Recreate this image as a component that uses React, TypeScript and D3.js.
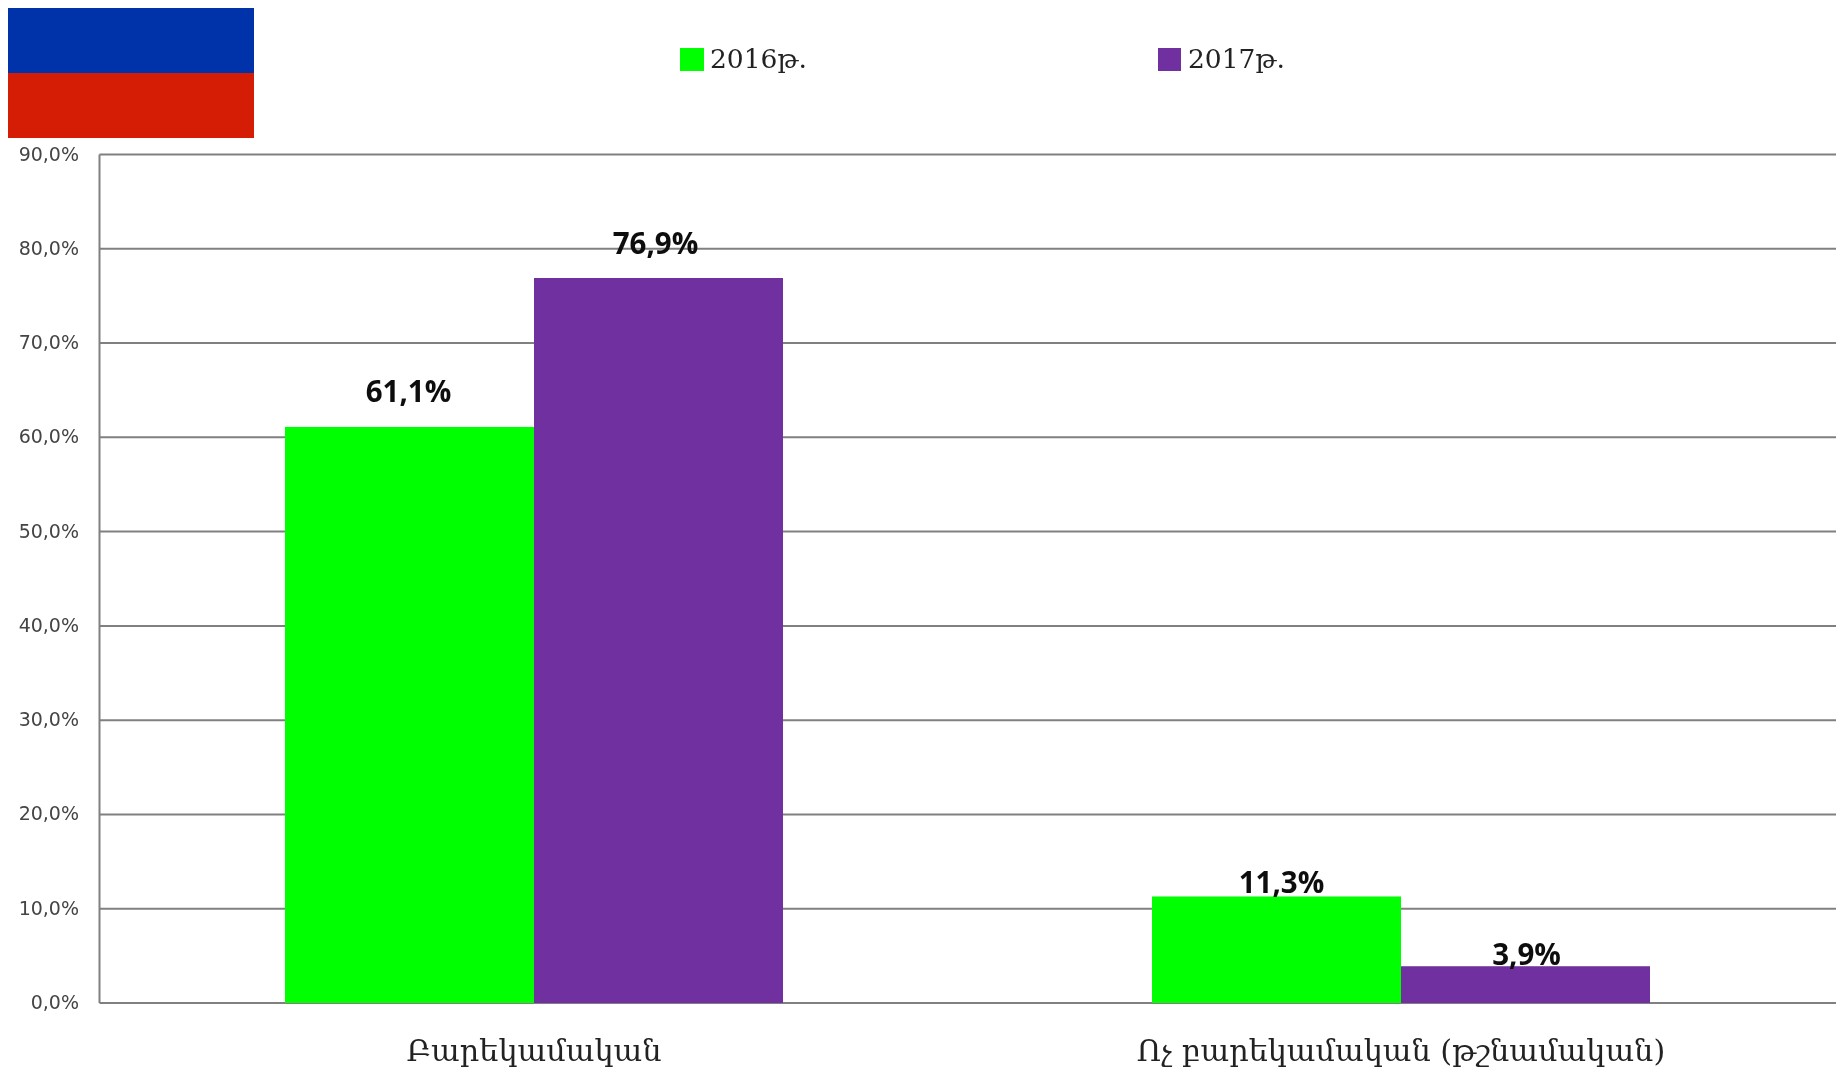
import React from "react";
import * as d3 from "d3";

const categories = ["Բարեկամական", "Ոչ բարեկամական (թշնամական)"];
const seriesNames = ["2016թ.", "2017թ."];
const values2016 = [61.1, 11.3];
const values2017 = [76.9, 3.9];
const yTicks = [0, 10, 20, 30, 40, 50, 60, 70, 80, 90];
const seriesColors = ["#00ff00", "#7030a0"];
const flagColors = ["#0033aa", "#d51c05"];

const W = 1836, H = 1072;
const plot = { left: 99.5, right: 1836, top: 154.5, bottom: 1003 };
const comma = (v: number) => v.toFixed(1).replace(".", ",") + "%";

export default function App() {
  const y = d3.scaleLinear().domain([0, 90]).range([plot.bottom, plot.top]);
  const x0 = d3.scaleBand<string>().domain(categories).range([100.5, 1834.5]);
  const x1 = d3.scaleBand<string>().domain(seriesNames).range([-249, 249]);
  const all = [values2016, values2017];
  const labelDy = [[-25, -24], [-3, -1]];
  const labelDx = [[-1, -3], [5, 1]];
  const serif = "'DejaVu Serif', 'Liberation Serif', serif";
  return (
    <svg
      width={W}
      height={H}
      viewBox={`0 0 ${W} ${H}`}
      style={{ position: "fixed", left: 0, top: 0, background: "#fff" }}
    >
      <defs>
        <filter id="soft" x="-5%" y="-5%" width="110%" height="110%">
          <feGaussianBlur stdDeviation="0.45" />
        </filter>
      </defs>
      <rect x={8} y={8} width={246} height={65} fill={flagColors[0]} />
      <rect x={8} y={73} width={246} height={65} fill={flagColors[1]} />

      {yTicks.map((t) => (
        <line key={t} x1={plot.left} x2={plot.right} y1={y(t)} y2={y(t)} stroke="#808080" strokeWidth={2} />
      ))}
      <line x1={plot.left} x2={plot.left} y1={plot.top} y2={plot.bottom} stroke="#808080" strokeWidth={2} />

      {yTicks.map((t) => (
        <text
          key={t}
          x={79}
          y={y(t) + 6}
          textAnchor="end"
          fontFamily="'DejaVu Sans', sans-serif"
          fontSize={19}
          fill="#444"
          filter="url(#soft)"
        >
          {comma(t)}
        </text>
      ))}

      {seriesNames.map((s, si) =>
        categories.map((c) => {
          const v = all[si][categories.indexOf(c)];
          const bx = x0(c)! + x0.bandwidth() / 2 + x1(s)!;
          return (
            <rect key={s + c} x={bx} y={y(v)} width={x1.bandwidth()} height={plot.bottom - y(v)} fill={seriesColors[si]} />
          );
        })
      )}

      {seriesNames.map((s, si) =>
        categories.map((c, ci) => {
          const v = all[si][ci];
          const bx = x0(c)! + x0.bandwidth() / 2 + x1(s)! + x1.bandwidth() / 2;
          return (
            <text
              key={s + c}
              x={bx + labelDx[ci][si]}
              y={y(v) + labelDy[ci][si]}
              textAnchor="middle"
              fontFamily="'Open Sans', sans-serif"
              fontWeight="bold"
              fontSize={29.5}
              fill="#111"
              filter="url(#soft)"
            >
              {comma(v)}
            </text>
          );
        })
      )}

      {categories.map((c) => (
        <text
          key={c}
          x={x0(c)! + x0.bandwidth() / 2}
          y={1061}
          textAnchor="middle"
          fontFamily={serif}
          fontSize={30.3}
          fill="#222"
          filter="url(#soft)"
        >
          {c}
        </text>
      ))}

      {seriesNames.map((s, i) => {
        const lx = [680, 1158][i];
        return (
          <g key={s}>
            <rect x={lx} y={48} width={[24, 23][i]} height={23} fill={seriesColors[i]} />
            <text x={lx + 30} y={68} fontFamily={serif} fontSize={26.5} fill="#222" filter="url(#soft)">
              {s}
            </text>
          </g>
        );
      })}
    </svg>
  );
}
